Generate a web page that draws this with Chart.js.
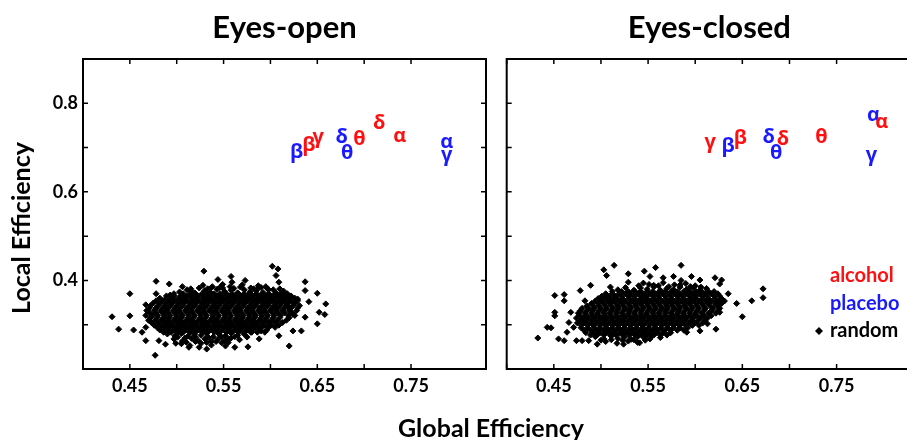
<!DOCTYPE html>
<html>
<head>
<meta charset="utf-8">
<title>Eyes-open / Eyes-closed efficiency</title>
<script src="https://cdn.jsdelivr.net/npm/chart.js@4.4.1/dist/chart.umd.min.js"></script>
<style>
  html, body { margin: 0; padding: 0; background: #fff; }
  body { position: relative; width: 907px; height: 440px; overflow: hidden; }
  canvas { position: absolute; top: 0; }
  #c-open { left: 0; }
  #c-closed { left: 493px; }
  #xlabel {
    position: absolute; left: 291px; width: 400px; top: 412px;
    text-align: center; font: bold 25px/30px Lato, sans-serif; color: #000;
  }
</style>
</head>
<body>
<canvas id="c-open" width="492" height="440"></canvas>
<canvas id="c-closed" width="425" height="440"></canvas>
<div id="xlabel">Global Efficiency</div>
<script>
"use strict";

// -- data ----------------------------------------------------------------
const panelTitles = ["Eyes-open", "Eyes-closed"];
const yAxisTitle = "Local Efficiency";
const xTickLabels = [0.45, 0.55, 0.65, 0.75];
const yTickLabels = [0.4, 0.6, 0.8];
const legendLabels = ["alcohol", "placebo", "random"];

// greek band labels, [letter, globalEff, localEff]
const openAlcohol = [["β", 0.641, 0.705], ["γ", 0.651, 0.724], ["θ", 0.695, 0.718], ["δ", 0.716, 0.755], ["α", 0.738, 0.726]];
const openPlacebo = [["β", 0.628, 0.690], ["δ", 0.676, 0.724], ["θ", 0.682, 0.687], ["α", 0.788, 0.713], ["γ", 0.788, 0.683]];
const closedAlcohol = [["γ", 0.616, 0.713], ["β", 0.648, 0.721], ["δ", 0.693, 0.718], ["θ", 0.734, 0.724], ["α", 0.798, 0.758]];
const closedPlacebo = [["β", 0.635, 0.702], ["δ", 0.678, 0.723], ["θ", 0.686, 0.688], ["α", 0.789, 0.773], ["γ", 0.787, 0.683]];

// random networks, eyes-open: dense rows [localEff, [globalEff...]] + loose points [globalEff, localEff]
const openRandomRows = [
  [0.370, [0.497, 0.507, 0.514, 0.520, 0.527, 0.533, 0.540, 0.546, 0.553, 0.559, 0.566, 0.572, 0.579, 0.585, 0.592, 0.598, 0.605, 0.611, 0.618]],
  [0.365, [0.489, 0.497, 0.504, 0.510, 0.517, 0.523, 0.530, 0.536, 0.543, 0.549, 0.556, 0.562, 0.569, 0.575, 0.582, 0.588, 0.595, 0.601, 0.608, 0.614, 0.622]],
  [0.360, [0.482, 0.489, 0.495, 0.502, 0.508, 0.515, 0.521, 0.528, 0.534, 0.540, 0.547, 0.553, 0.560, 0.566, 0.573, 0.579, 0.586, 0.592, 0.599, 0.605, 0.612, 0.619, 0.626]],
  [0.354, [0.478, 0.485, 0.492, 0.498, 0.505, 0.511, 0.518, 0.524, 0.531, 0.537, 0.544, 0.550, 0.557, 0.563, 0.570, 0.576, 0.583, 0.589, 0.596, 0.602, 0.609, 0.615, 0.622, 0.629]],
  [0.349, [0.475, 0.482, 0.489, 0.495, 0.502, 0.508, 0.515, 0.521, 0.528, 0.534, 0.541, 0.547, 0.554, 0.560, 0.567, 0.573, 0.580, 0.586, 0.593, 0.599, 0.606, 0.612, 0.619, 0.626]],
  [0.343, [0.472, 0.480, 0.487, 0.493, 0.500, 0.506, 0.513, 0.519, 0.526, 0.532, 0.539, 0.545, 0.552, 0.558, 0.565, 0.571, 0.578, 0.584, 0.591, 0.597, 0.604, 0.610, 0.617, 0.624, 0.631]],
  [0.338, [0.471, 0.478, 0.485, 0.491, 0.498, 0.504, 0.511, 0.517, 0.524, 0.530, 0.537, 0.543, 0.550, 0.556, 0.563, 0.569, 0.576, 0.582, 0.589, 0.595, 0.602, 0.608, 0.615, 0.622, 0.629]],
  [0.332, [0.468, 0.476, 0.483, 0.489, 0.496, 0.502, 0.509, 0.515, 0.522, 0.528, 0.535, 0.541, 0.548, 0.554, 0.561, 0.567, 0.574, 0.580, 0.587, 0.593, 0.600, 0.606, 0.613, 0.620, 0.628]],
  [0.327, [0.471, 0.478, 0.485, 0.491, 0.498, 0.504, 0.511, 0.517, 0.524, 0.530, 0.537, 0.543, 0.550, 0.556, 0.563, 0.569, 0.576, 0.582, 0.589, 0.595, 0.602, 0.608, 0.615, 0.623]],
  [0.321, [0.467, 0.474, 0.480, 0.487, 0.493, 0.500, 0.506, 0.513, 0.519, 0.526, 0.532, 0.539, 0.545, 0.552, 0.558, 0.565, 0.571, 0.578, 0.584, 0.591, 0.597, 0.604, 0.611, 0.619, 0.626]],
  [0.316, [0.472, 0.479, 0.486, 0.492, 0.499, 0.505, 0.512, 0.518, 0.525, 0.531, 0.538, 0.544, 0.551, 0.557, 0.564, 0.570, 0.577, 0.583, 0.590, 0.596, 0.603, 0.610, 0.620]],
  [0.310, [0.470, 0.477, 0.484, 0.490, 0.497, 0.503, 0.510, 0.516, 0.523, 0.529, 0.536, 0.542, 0.549, 0.555, 0.562, 0.568, 0.575, 0.581, 0.588, 0.594, 0.601, 0.608, 0.617]],
  [0.305, [0.473, 0.480, 0.487, 0.493, 0.500, 0.506, 0.513, 0.519, 0.526, 0.532, 0.539, 0.545, 0.552, 0.558, 0.565, 0.571, 0.578, 0.584, 0.591, 0.598, 0.605, 0.613]],
  [0.299, [0.476, 0.483, 0.490, 0.496, 0.503, 0.509, 0.516, 0.522, 0.529, 0.535, 0.542, 0.548, 0.555, 0.561, 0.568, 0.574, 0.581, 0.587, 0.594, 0.601, 0.609]],
  [0.294, [0.479, 0.486, 0.493, 0.500, 0.506, 0.513, 0.519, 0.526, 0.532, 0.539, 0.545, 0.552, 0.558, 0.565, 0.571, 0.578, 0.584, 0.591, 0.598, 0.605]],
  [0.288, [0.482, 0.490, 0.497, 0.503, 0.510, 0.516, 0.523, 0.529, 0.536, 0.542, 0.549, 0.555, 0.562, 0.568, 0.575, 0.581, 0.588, 0.596]],
  [0.283, [0.486, 0.494, 0.501, 0.507, 0.514, 0.520, 0.527, 0.533, 0.540, 0.546, 0.553, 0.559, 0.566, 0.572, 0.579, 0.586, 0.594]]
];
const openRandomLoose = [
  [0.528, 0.389], [0.537, 0.384], [0.549, 0.391], [0.557, 0.386], [0.570, 0.390], [0.579, 0.383], [0.587, 0.388], [0.597, 0.381],
  [0.515, 0.381], [0.524, 0.383], [0.533, 0.381], [0.546, 0.384], [0.561, 0.382], [0.568, 0.385], [0.582, 0.381], [0.590, 0.384],
  [0.603, 0.379], [0.610, 0.381],
  [0.503, 0.374], [0.511, 0.379], [0.519, 0.372], [0.530, 0.377], [0.536, 0.373], [0.543, 0.380], [0.551, 0.375], [0.558, 0.378],
  [0.565, 0.372], [0.572, 0.379], [0.578, 0.374], [0.585, 0.377], [0.592, 0.373], [0.598, 0.379], [0.606, 0.372], [0.614, 0.376],
  [0.490, 0.279], [0.498, 0.275], [0.505, 0.280], [0.512, 0.274], [0.519, 0.278], [0.526, 0.276], [0.532, 0.280], [0.539, 0.273],
  [0.545, 0.279], [0.552, 0.275], [0.558, 0.281], [0.565, 0.276], [0.572, 0.279], [0.580, 0.283],
  [0.501, 0.272], [0.509, 0.270], [0.520, 0.272], [0.534, 0.271], [0.548, 0.272], [0.555, 0.268], [0.562, 0.273], [0.575, 0.272],
  [0.497, 0.268], [0.506, 0.263], [0.516, 0.269], [0.523, 0.264], [0.530, 0.268], [0.537, 0.262], [0.544, 0.267], [0.551, 0.263],
  [0.558, 0.270], [0.567, 0.266], [0.505, 0.257], [0.514, 0.253], [0.526, 0.258], [0.537, 0.254], [0.548, 0.259],
  [0.510, 0.261], [0.520, 0.262], [0.532, 0.260], [0.542, 0.262], [0.555, 0.260],
  [0.431, 0.318], [0.438, 0.290], [0.450, 0.370], [0.450, 0.320], [0.454, 0.288], [0.467, 0.345], [0.478, 0.398], [0.478, 0.370],
  [0.477, 0.231], [0.493, 0.367], [0.499, 0.258], [0.506, 0.386], [0.529, 0.421], [0.532, 0.245], [0.544, 0.402], [0.558, 0.409],
  [0.559, 0.396], [0.576, 0.250], [0.573, 0.400], [0.590, 0.286], [0.602, 0.432], [0.608, 0.426], [0.606, 0.411], [0.609, 0.396],
  [0.609, 0.275], [0.620, 0.252], [0.624, 0.286], [0.633, 0.286], [0.637, 0.397], [0.637, 0.377], [0.641, 0.352], [0.637, 0.317],
  [0.650, 0.371], [0.652, 0.328], [0.659, 0.347], [0.650, 0.302], [0.658, 0.323], [0.624, 0.324], [0.629, 0.358], [0.463, 0.283],
  [0.467, 0.264], [0.481, 0.264], [0.488, 0.256], [0.513, 0.249], [0.524, 0.249], [0.552, 0.252], [0.562, 0.249], [0.588, 0.268],
  [0.471, 0.309], [0.467, 0.294], [0.515, 0.377], [0.538, 0.386], [0.549, 0.383], [0.588, 0.385], [0.595, 0.386], [0.617, 0.362],
  [0.619, 0.339], [0.492, 0.392]
];

// random networks, eyes-closed
const closedRandomRows = [
  [0.375, [0.512, 0.522, 0.529, 0.536, 0.542, 0.549, 0.555, 0.562, 0.568, 0.575, 0.581, 0.588, 0.594, 0.601, 0.607, 0.614, 0.620]],
  [0.370, [0.505, 0.512, 0.519, 0.526, 0.532, 0.539, 0.545, 0.552, 0.558, 0.565, 0.571, 0.578, 0.584, 0.591, 0.597, 0.604, 0.610, 0.617, 0.624]],
  [0.3645, [0.501, 0.508, 0.515, 0.522, 0.529, 0.535, 0.542, 0.548, 0.555, 0.561, 0.568, 0.574, 0.581, 0.587, 0.594, 0.600, 0.607, 0.613, 0.620, 0.626]],
  [0.359, [0.497, 0.504, 0.510, 0.517, 0.523, 0.530, 0.536, 0.543, 0.549, 0.556, 0.562, 0.569, 0.575, 0.582, 0.588, 0.595, 0.601, 0.608, 0.614, 0.621, 0.628]],
  [0.3535, [0.494, 0.500, 0.507, 0.513, 0.520, 0.526, 0.533, 0.539, 0.546, 0.552, 0.559, 0.565, 0.572, 0.578, 0.585, 0.591, 0.598, 0.604, 0.611, 0.617, 0.624, 0.631]],
  [0.348, [0.490, 0.497, 0.503, 0.510, 0.516, 0.523, 0.529, 0.536, 0.542, 0.549, 0.555, 0.562, 0.568, 0.575, 0.581, 0.588, 0.594, 0.601, 0.607, 0.614, 0.621, 0.628]],
  [0.3425, [0.485, 0.492, 0.498, 0.505, 0.511, 0.518, 0.524, 0.531, 0.537, 0.544, 0.550, 0.557, 0.563, 0.570, 0.576, 0.583, 0.589, 0.596, 0.602, 0.609, 0.616, 0.624]],
  [0.337, [0.480, 0.487, 0.493, 0.500, 0.506, 0.513, 0.519, 0.526, 0.532, 0.539, 0.545, 0.552, 0.558, 0.565, 0.571, 0.578, 0.584, 0.591, 0.597, 0.604, 0.611, 0.619, 0.626]],
  [0.3315, [0.478, 0.485, 0.491, 0.498, 0.504, 0.511, 0.517, 0.524, 0.530, 0.537, 0.543, 0.550, 0.556, 0.563, 0.569, 0.576, 0.582, 0.589, 0.595, 0.602, 0.609, 0.617, 0.624]],
  [0.326, [0.476, 0.483, 0.490, 0.496, 0.503, 0.509, 0.516, 0.522, 0.529, 0.535, 0.542, 0.548, 0.555, 0.561, 0.568, 0.574, 0.581, 0.587, 0.594, 0.600, 0.607, 0.614, 0.622]],
  [0.3205, [0.478, 0.485, 0.491, 0.498, 0.504, 0.511, 0.517, 0.524, 0.530, 0.537, 0.543, 0.550, 0.556, 0.563, 0.569, 0.576, 0.582, 0.589, 0.595, 0.602, 0.609, 0.617]],
  [0.315, [0.474, 0.481, 0.487, 0.494, 0.500, 0.507, 0.513, 0.520, 0.526, 0.533, 0.539, 0.546, 0.552, 0.559, 0.565, 0.572, 0.578, 0.585, 0.591, 0.598, 0.605, 0.613]],
  [0.3095, [0.478, 0.485, 0.491, 0.498, 0.504, 0.511, 0.517, 0.524, 0.530, 0.537, 0.543, 0.550, 0.556, 0.563, 0.569, 0.576, 0.582, 0.589, 0.596, 0.603, 0.610]],
  [0.304, [0.475, 0.482, 0.489, 0.495, 0.502, 0.508, 0.515, 0.521, 0.528, 0.534, 0.541, 0.547, 0.554, 0.560, 0.567, 0.573, 0.580, 0.586, 0.593, 0.600, 0.608]],
  [0.2985, [0.479, 0.486, 0.492, 0.499, 0.505, 0.512, 0.518, 0.525, 0.531, 0.538, 0.544, 0.551, 0.557, 0.564, 0.570, 0.577, 0.583, 0.590, 0.597, 0.604]],
  [0.293, [0.479, 0.486, 0.493, 0.499, 0.506, 0.512, 0.519, 0.525, 0.532, 0.538, 0.545, 0.551, 0.558, 0.564, 0.571, 0.577, 0.584, 0.592]],
  [0.2875, [0.482, 0.489, 0.496, 0.503, 0.509, 0.516, 0.522, 0.529, 0.535, 0.542, 0.548, 0.555, 0.561, 0.568, 0.574, 0.581, 0.588]],
  [0.282, [0.484, 0.492, 0.499, 0.506, 0.513, 0.520, 0.526, 0.533, 0.539, 0.546, 0.552, 0.559, 0.566, 0.574]],
  [0.2765, [0.489, 0.496, 0.503, 0.510, 0.516, 0.523, 0.530, 0.536, 0.543, 0.549, 0.556, 0.563, 0.570]]
];
const closedRandomLoose = [
  [0.545, 0.394], [0.556, 0.389], [0.566, 0.395], [0.578, 0.390], [0.590, 0.393], [0.600, 0.388],
  [0.540, 0.388], [0.551, 0.391], [0.561, 0.388], [0.572, 0.386], [0.584, 0.390], [0.595, 0.386], [0.606, 0.385],
  [0.518, 0.379], [0.526, 0.384], [0.535, 0.378], [0.542, 0.383], [0.549, 0.380], [0.556, 0.385], [0.563, 0.378], [0.570, 0.382],
  [0.577, 0.379], [0.584, 0.385], [0.591, 0.380], [0.598, 0.383], [0.605, 0.378], [0.612, 0.382],
  [0.494, 0.273], [0.503, 0.268], [0.511, 0.274], [0.518, 0.269], [0.525, 0.272], [0.532, 0.267], [0.539, 0.273], [0.546, 0.270],
  [0.554, 0.275], [0.505, 0.262], [0.517, 0.258], [0.529, 0.263], [0.541, 0.259],
  [0.511, 0.266], [0.523, 0.265], [0.535, 0.266], [0.547, 0.265], [0.500, 0.265],
  [0.433, 0.270], [0.443, 0.294], [0.447, 0.293], [0.451, 0.366], [0.451, 0.328], [0.451, 0.320], [0.461, 0.368], [0.461, 0.354],
  [0.455, 0.268], [0.461, 0.264], [0.468, 0.328], [0.466, 0.305], [0.474, 0.264], [0.480, 0.264], [0.478, 0.377], [0.489, 0.389],
  [0.483, 0.354], [0.487, 0.264], [0.496, 0.256], [0.503, 0.424], [0.506, 0.411], [0.514, 0.434], [0.510, 0.385], [0.529, 0.415],
  [0.529, 0.396], [0.524, 0.256], [0.539, 0.260], [0.546, 0.421], [0.552, 0.409], [0.558, 0.429], [0.566, 0.406], [0.577, 0.409],
  [0.585, 0.434], [0.585, 0.400], [0.596, 0.409], [0.605, 0.401], [0.621, 0.406], [0.628, 0.401], [0.626, 0.392], [0.635, 0.370],
  [0.629, 0.354], [0.626, 0.328], [0.622, 0.290], [0.613, 0.302], [0.644, 0.348], [0.650, 0.318], [0.660, 0.354], [0.672, 0.381],
  [0.672, 0.361], [0.605, 0.286], [0.591, 0.283], [0.563, 0.271], [0.552, 0.268], [0.464, 0.283], [0.471, 0.294]
];

// -- helpers ---------------------------------------------------------------
const RED = "#ff1010";
const BLUE = "#1a1aff";
const near = (list, v) => list.some((t) => Math.abs(t - v) < 1e-6);

function cloudPoints(rows, loose) {
  const pts = [];
  for (const [y, xs] of rows) for (const x of xs) pts.push({ x, y });
  for (const [x, y] of loose) pts.push({ x, y });
  return pts;
}

function letterSet(label, list, color) {
  return {
    label,
    data: list.map(([, x, y]) => ({ x, y })),
    letters: list.map(([l]) => l),
    textColor: color,
    pointRadius: 0,
  };
}

// frame with inward ticks on all four sides
const framePlugin = {
  id: "frame",
  afterDraw(chart) {
    const { ctx, chartArea: a, scales: { x, y } } = chart;
    ctx.save();
    ctx.strokeStyle = "#000";
    ctx.lineWidth = 1.5;
    ctx.beginPath();
    for (const t of x.ticks) {
      const px = x.getPixelForValue(t.value);
      ctx.moveTo(px, a.bottom); ctx.lineTo(px, a.bottom - 5);
      ctx.moveTo(px, a.top); ctx.lineTo(px, a.top + 5);
    }
    for (const t of y.ticks) {
      const py = y.getPixelForValue(t.value);
      ctx.moveTo(a.left, py); ctx.lineTo(a.left + 5, py);
      ctx.moveTo(a.right, py); ctx.lineTo(a.right - 5, py);
    }
    ctx.stroke();
    ctx.lineWidth = 2;
    ctx.strokeRect(a.left, a.top, a.right - a.left, a.bottom - a.top);
    ctx.restore();
  },
};

const greekPlugin = {
  id: "greek",
  afterDatasetsDraw(chart) {
    const { ctx } = chart;
    ctx.save();
    ctx.font = 'bold 20px "Open Sans", "DejaVu Sans", sans-serif';
    ctx.textAlign = "center";
    ctx.textBaseline = "middle";
    chart.data.datasets.forEach((ds, i) => {
      if (!ds.letters) return;
      ctx.fillStyle = ds.textColor;
      chart.getDatasetMeta(i).data.forEach((pt, j) => ctx.fillText(ds.letters[j], pt.x, pt.y));
    });
    ctx.restore();
  },
};

// panel title, plus the shared y-axis title on the first panel
const titlePlugin = {
  id: "panelTitle",
  afterDraw(chart, args, opts) {
    const { ctx, chartArea: a } = chart;
    ctx.save();
    ctx.fillStyle = "#000";
    ctx.textAlign = "center";
    ctx.font = "bold 31px Lato, sans-serif";
    ctx.textBaseline = "alphabetic";
    ctx.fillText(opts.text, (a.left + a.right) / 2, 38);
    if (opts.yTitle) {
      ctx.font = "bold 25px Lato, sans-serif";
      ctx.textBaseline = "middle";
      ctx.translate(22, 228);
      ctx.rotate(-Math.PI / 2);
      ctx.fillText(opts.yTitle, 0, 0);
    }
    ctx.restore();
  },
};

const legendPlugin = {
  id: "panelLegend",
  afterDraw(chart, args, opts) {
    if (!opts.show) return;
    const { ctx } = chart;
    const colors = [RED, BLUE, "#000"];
    ctx.save();
    ctx.font = "bold 20px Lato, sans-serif";
    ctx.textAlign = "left";
    ctx.textBaseline = "middle";
    legendLabels.forEach((name, i) => {
      ctx.fillStyle = colors[i];
      ctx.fillText(name, 337, 276 + i * 27.5);
    });
    // key for the random cloud
    ctx.fillStyle = "#000";
    ctx.beginPath();
    ctx.moveTo(326, 327); ctx.lineTo(330, 331); ctx.lineTo(326, 335); ctx.lineTo(322, 331);
    ctx.closePath();
    ctx.fill();
    ctx.restore();
  },
};

Chart.defaults.font.family = "Lato, sans-serif";
Chart.defaults.color = "#000";

function makePanel(canvasId, title, cloud, alcohol, placebo, first) {
  return new Chart(document.getElementById(canvasId), {
    type: "scatter",
    data: {
      datasets: [
        {
          label: "random",
          data: cloud,
          pointStyle: "rectRot",
          pointRadius: 3,
          pointBorderWidth: 1,
          backgroundColor: "#000",
          borderColor: "#000",
        },
        letterSet("placebo", placebo, BLUE),
        letterSet("alcohol", alcohol, RED),
      ],
    },
    options: {
      responsive: false,
      animation: false,
      events: [],
      layout: { padding: { top: 59, right: first ? 5 : 4, left: 0, bottom: 0 } },
      plugins: {
        legend: { display: false },
        tooltip: { enabled: false },
        panelTitle: { text: title, yTitle: first ? yAxisTitle : "" },
        panelLegend: { show: !first },
      },
      scales: {
        x: {
          type: "linear",
          min: 0.40,
          max: 0.83,
          grid: { display: false, drawTicks: false },
          border: { display: false },
          ticks: {
            stepSize: 0.05,
            padding: 6,
            maxRotation: 0,
            autoSkip: false,
            font: { size: 18, weight: "bold" },
            callback: (v) => (near(xTickLabels, v) ? v.toFixed(2) : ""),
          },
          afterFit: (s) => { s.height = 71; },
        },
        y: {
          type: "linear",
          min: 0.2,
          max: 0.9,
          grid: { display: false, drawTicks: false },
          border: { display: false },
          ticks: {
            stepSize: 0.1,
            padding: 5,
            autoSkip: false,
            font: { size: 18, weight: "bold" },
            callback: (v) => (first && near(yTickLabels, v) ? v.toFixed(1) : ""),
          },
          afterFit: (s) => { s.width = first ? 83 : 13.7; },
        },
      },
    },
    plugins: [framePlugin, greekPlugin, titlePlugin, legendPlugin],
  });
}

makePanel("c-open", panelTitles[0], cloudPoints(openRandomRows, openRandomLoose), openAlcohol, openPlacebo, true);
makePanel("c-closed", panelTitles[1], cloudPoints(closedRandomRows, closedRandomLoose), closedAlcohol, closedPlacebo, false);
</script>
</body>
</html>
